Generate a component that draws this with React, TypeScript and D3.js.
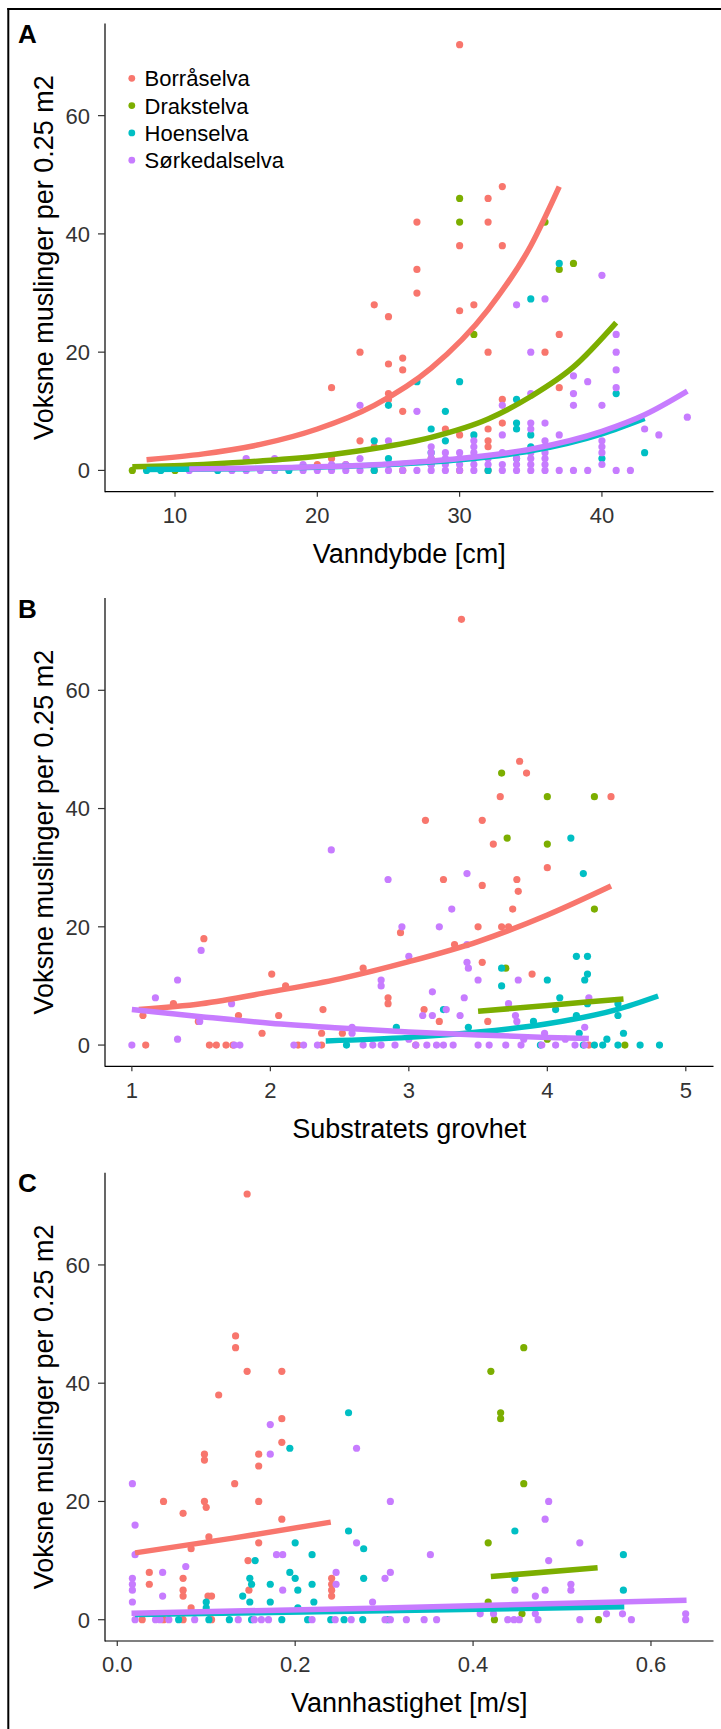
import React from "react";
import * as d3 from "d3";

const rivers = ["Borråselva", "Drakstelva", "Hoenselva", "Sørkedalselva"];
const riverColors = ["#F8766D", "#7CAE00", "#00BFC4", "#C77CFF"];

const yTicks = [0, 20, 40, 60];
const depthTicks = [10, 20, 30, 40];
const substrateTicks = [1, 2, 3, 4, 5];
const velocityTicks = [0, 0.2, 0.4, 0.6];

// ---------- Panel A: water depth ----------
const depthBorra = [[30,72],[33,48],[32,46],[27,42],[32,42],[30,38],[33,38],[27,34],[27,30],[24,28],[31,28],[25,26],[30,27],[23,20],[32,20],[36,20],[37,23],[26,19],[25,18],[26,17],[21,14],[37,14],[25,13],[25,12],[26,10],[33,12],[33,8],[29,7],[32,7],[30,6],[23,5],[32,5],[32,4],[24,4],[28,2],[20,1],[21,2],[22,1],[30,0],[32,0],[26,0],[24,0]];
const depthDrak = [[30,46],[30,42],[36,42],[37,34],[38,35],[31,23],[7,0],[10,0]];
const depthHoen = [[37,35],[35,29],[30,15],[27,15],[29,10],[25,11],[34,12],[41,13],[28,7],[31,6],[34,8],[34,7],[35,6],[24,5],[29,5],[28,3],[43,3],[34,2],[40,2],[25,2],[28,1],[35,4],[8,0],[9,0],[13,0],[18,0],[24,0],[32,0]];
const depthSork = [[40,33],[34,28],[36,29],[41,23],[35,20],[41,20],[41,17],[38,16],[39,15],[41,14],[38,13],[35,13],[23,11],[33,11],[38,11],[40,11],[27,10],[46,9],[35,8],[36,8],[35,7],[43,7],[44,6],[33,6],[37,6],[31,5],[25,5],[28,4],[28,3],[28,2],[28,1],[29,3],[29,2],[29,1],[30,3],[30,2],[30,1],[31,4],[31,3],[31,2],[31,1],[32,2],[32,1],[33,3],[33,1],[34,3],[34,2],[34,1],[35,3],[35,2],[35,1],[36,5],[36,4],[36,3],[36,2],[36,1],[40,5],[40,4],[40,3],[40,1],[15,2],[17,2],[19,1],[21,1],[22,1],[23,2],[11,0],[14,0],[15,0],[16,0],[17,0],[19,0],[20,0],[21,0],[22,0],[23,0],[25,0],[26,0],[27,0],[28,0],[29,0],[30,0],[31,0],[33,0],[34,0],[35,0],[36,0],[37,0],[38,0],[39,0],[41,0],[42,0]];
const depthFitBorra = [[8,1.8],[12,2.8],[16,4.4],[20,7.0],[24,11],[28,17.3],[32,27.2],[35,38],[37,48]];
const depthFitDrak = [[7,0.6],[12,1.0],[16,1.6],[20,2.4],[24,3.7],[28,5.6],[32,8.7],[35,12.5],[38,17.5],[41,25]];
const depthFitHoen = [[8,0.15],[15,0.3],[20,0.55],[25,1.0],[30,1.8],[35,3.3],[40,6.2],[43,8.8]];
const depthFitSork = [[11,0.22],[15,0.35],[20,0.6],[25,1.1],[30,2.0],[35,3.6],[40,6.6],[43,9.4],[46,13.4]];

// ---------- Panel B: substrate coarseness ----------
const substrateBorra = [[3.38,72],[3.80,48],[3.85,46],[3.66,42],[4.46,42],[3.12,38],[3.53,38],[3.61,34],[4.0,30],[3.25,28],[3.78,28],[3.53,27],[3.79,26],[3.75,23],[3.50,20],[3.67,20],[3.72,20],[2.94,19],[1.52,18],[3.33,17],[3.53,14],[2.67,13],[2.01,12],[3.89,12],[2.11,10],[2.85,8],[2.85,7],[1.30,7],[3.11,6],[2.38,6],[1.77,5],[2.06,5],[1.08,5],[3.22,4],[3.57,4],[1.48,4],[1.94,2],[2.37,2],[2.52,2],[1.10,0],[1.56,0],[1.61,0],[1.68,0],[1.73,0],[2.20,0],[2.37,0],[3.05,0],[4.30,0]];
const substrateDrak = [[3.67,46],[4.0,42],[4.34,42],[3.71,35],[4.0,34],[4.34,23],[3.70,13],[4.56,0],[4.0,1]];
const substrateHoen = [[4.17,35],[4.26,29],[4.21,15],[4.29,15],[4.29,12],[4.27,11],[4.0,11],[3.67,13],[3.67,10],[3.25,6],[4.09,8],[4.06,6],[2.91,3],[3.43,3],[3.90,4],[4.21,5],[4.51,5],[4.51,7],[4.29,7],[4.55,2],[4.23,2],[4.43,1],[2.55,0],[3.95,0],[4.26,0],[4.34,0],[4.40,0],[4.51,0],[4.67,0],[4.81,0]];
const substrateSork = [[2.44,33],[2.85,28],[3.42,29],[3.31,23],[2.95,20],[3.22,20],[3.0,15],[3.42,17],[1.50,16],[3.42,14],[3.43,13],[1.33,11],[2.80,11],[2.80,10],[3.50,11],[3.79,11],[3.17,9],[1.17,8],[3.40,8],[3.72,7],[4.30,8],[1.72,7],[3.27,6],[3.17,5],[3.10,5],[3.37,5],[3.77,5],[3.78,4],[1.49,4],[1.33,1],[4.27,3],[3.98,2],[2.59,3],[2.59,2],[3.0,1],[3.83,1],[4.13,1],[1.0,0],[1.74,0],[1.78,0],[2.17,0],[2.24,0],[2.34,0],[2.67,0],[2.74,0],[2.80,0],[2.90,0],[3.05,0],[3.13,0],[3.20,0],[3.25,0],[3.32,0],[3.50,0],[3.58,0],[3.70,0],[3.81,0],[3.96,0],[4.06,0],[4.20,0],[4.27,0]];
const substrateFitBorra = [[1.05,6.0],[1.5,7.0],[2,9.0],[2.5,11.2],[3,14.1],[3.5,17.5],[4,22],[4.46,26.9]];
const substrateFitDrak = [[3.5,5.7],[4,6.7],[4.55,7.8]];
const substrateFitHoen = [[2.4,0.7],[3,1.3],[3.5,2.2],[4,3.6],[4.5,6.0],[4.8,8.3]];
const substrateFitSork = [[1.0,6.0],[1.5,4.8],[2,3.7],[2.5,2.9],[3,2.2],[3.5,1.7],[4,1.3],[4.3,1.1]];

// ---------- Panel C: water velocity ----------
const velocityBorra = [[0.146,72],[0.133,48],[0.133,46],[0.146,42],[0.185,42],[0.114,38],[0.185,34],[0.185,30],[0.098,28],[0.159,28],[0.098,27],[0.159,26],[0.132,23],[0.052,20],[0.098,20],[0.159,20],[0.100,19],[0.074,18],[0.185,17],[0.159,13],[0.103,14],[0.083,12],[0.147,10],[0.036,8],[0.036,6],[0.074,7],[0.074,5],[0.074,4],[0.241,7],[0.241,6],[0.241,5],[0.241,4],[0.148,5],[0.102,4],[0.106,4],[0.083,2],[0.028,0],[0.052,0],[0.074,0],[0.106,0]];
const velocityDrak = [[0.457,46],[0.420,42],[0.431,35],[0.431,34],[0.457,23],[0.417,13],[0.417,3],[0.455,1],[0.424,0],[0.541,0]];
const velocityHoen = [[0.260,35],[0.194,29],[0.260,15],[0.200,13],[0.277,12],[0.447,15],[0.219,11],[0.569,11],[0.155,10],[0.194,8],[0.200,7],[0.149,7],[0.277,7],[0.447,7],[0.151,6],[0.172,6],[0.219,6],[0.203,5],[0.569,5],[0.149,3],[0.100,3],[0.172,3],[0.221,3],[0.141,4],[0.100,2],[0.203,2],[0.069,0],[0.103,0],[0.126,0],[0.151,0],[0.185,0],[0.214,0],[0.240,0],[0.255,0],[0.276,0],[0.304,0]];
const velocitySork = [[0.172,33],[0.269,29],[0.172,28],[0.017,23],[0.307,20],[0.485,20],[0.481,17],[0.020,16],[0.269,13],[0.520,13],[0.020,11],[0.179,11],[0.186,11],[0.352,11],[0.485,10],[0.077,9],[0.051,8],[0.246,8],[0.307,8],[0.017,7],[0.301,7],[0.017,6],[0.246,6],[0.510,6],[0.017,5],[0.186,5],[0.447,5],[0.481,5],[0.510,5],[0.051,4],[0.470,4],[0.017,3],[0.287,3],[0.423,1],[0.408,1],[0.470,1],[0.550,1],[0.568,1],[0.639,1],[0.639,0],[0.020,0],[0.043,0],[0.048,0],[0.058,0],[0.087,0],[0.136,0],[0.154,0],[0.162,0],[0.170,0],[0.219,0],[0.245,0],[0.263,0],[0.301,0],[0.307,0],[0.325,0],[0.345,0],[0.359,0],[0.439,0],[0.446,0],[0.452,0],[0.473,0],[0.520,0],[0.578,0]];
const velocityFitBorra = [[0.02,11.3],[0.13,13.8],[0.24,16.5]];
const velocityFitDrak = [[0.42,7.3],[0.54,8.8]];
const velocityFitHoen = [[0.02,0.9],[0.3,1.5],[0.57,2.2]];
const velocityFitSork = [[0.016,1.1],[0.3,2.0],[0.64,3.3]];

const W = 721, H = 1729;
const panelStep = 574.65;
const plotLeft = 105, plotRight = 713.5, plotTop = 23.4, plotBottom = 491.7;
const yDomain = [-3.6, 75.6];
const FONT = "'Liberation Sans', Arial, Helvetica, sans-serif";

const panels = [
  { label: "A", title: "Vanndybde [cm]", domain: [5.08, 47.84], ticks: depthTicks, fmt: (v: number) => String(v),
    points: [depthBorra, depthDrak, depthHoen, depthSork], fits: [depthFitBorra, depthFitDrak, depthFitHoen, depthFitSork], legend: true },
  { label: "B", title: "Substratets grovhet", domain: [0.806, 5.2], ticks: substrateTicks, fmt: (v: number) => String(v),
    points: [substrateBorra, substrateDrak, substrateHoen, substrateSork], fits: [substrateFitBorra, substrateFitDrak, substrateFitHoen, substrateFitSork], legend: false },
  { label: "C", title: "Vannhastighet [m/s]", domain: [-0.0138, 0.6703], ticks: velocityTicks, fmt: (v: number) => v.toFixed(1),
    points: [velocityBorra, velocityDrak, velocityHoen, velocitySork], fits: [velocityFitBorra, velocityFitDrak, velocityFitHoen, velocityFitSork], legend: false },
];

function Panel({ cfg, off }: { cfg: any; off: number }) {
  const x = d3.scaleLinear().domain(cfg.domain).range([plotLeft, plotRight]);
  const y = d3.scaleLinear().domain(yDomain).range([plotBottom + off, plotTop + off]);
  const line = d3.line<number[]>().x((d) => x(d[0])).y((d) => y(d[1])).curve(d3.curveMonotoneX);
  const cy = (plotTop + plotBottom) / 2 + off;
  return (
    <g>
      <text x={18} y={43 + off} fontSize={26} fontWeight="bold" fill="#000">{cfg.label}</text>
      {cfg.points.map((pts: number[][], k: number) =>
        pts.map((d, j) => <circle key={k + "-" + j} cx={x(d[0])} cy={y(d[1])} r={3.6} fill={riverColors[k]} />)
      )}
      {cfg.fits.map((f: number[][], k: number) => (
        <path key={"f" + k} d={line(f) || ""} fill="none" stroke={riverColors[k]} strokeWidth={5.5} />
      ))}
      <line x1={plotLeft} x2={plotLeft} y1={plotTop + off} y2={plotBottom + off + 0.5} stroke="#000" strokeWidth={1.2} />
      <line x1={plotLeft} x2={plotRight} y1={plotBottom + off} y2={plotBottom + off} stroke="#000" strokeWidth={1.2} />
      {yTicks.map((t) => (
        <g key={"y" + t}>
          <line x1={plotLeft - 7} x2={plotLeft} y1={y(t)} y2={y(t)} stroke="#333" strokeWidth={1.2} />
          <text x={90} y={y(t)} dy="0.36em" textAnchor="end" fontSize={22} fill="#333">{t}</text>
        </g>
      ))}
      {cfg.ticks.map((t: number) => (
        <g key={"x" + t}>
          <line x1={x(t)} x2={x(t)} y1={plotBottom + off} y2={plotBottom + off + 5} stroke="#333" strokeWidth={1.2} />
          <text x={x(t)} y={523 + off} textAnchor="middle" fontSize={22} fill="#333">{cfg.fmt(t)}</text>
        </g>
      ))}
      <text x={(plotLeft + plotRight) / 2} y={563 + off} textAnchor="middle" fontSize={27} fill="#000">{cfg.title}</text>
      <text transform={`translate(53,${cy}) rotate(-90)`} textAnchor="middle" fontSize={27} fill="#000">
        Voksne muslinger per 0.25 m2
      </text>
      {cfg.legend &&
        rivers.map((r, i) => (
          <g key={r}>
            <circle cx={131.8} cy={78.3 + i * 27.3 + off} r={3.4} fill={riverColors[i]} />
            <text x={144.6} y={78.3 + i * 27.3 + off} dy="0.36em" fontSize={22} fill="#000">{r}</text>
          </g>
        ))}
    </g>
  );
}

export default function App() {
  return (
    <svg width={W} height={H} style={{ position: "absolute", left: 0, top: 0, display: "block" }} fontFamily={FONT}>
      <rect x={0} y={0} width={W} height={H} fill="#fff" />
      <line x1={7.3} y1={9} x2={W} y2={9} stroke="#000" strokeWidth={2} />
      <line x1={8.3} y1={8} x2={8.3} y2={H} stroke="#000" strokeWidth={2} />
      {panels.map((p, i) => (
        <Panel key={p.label} cfg={p} off={i * panelStep} />
      ))}
    </svg>
  );
}
